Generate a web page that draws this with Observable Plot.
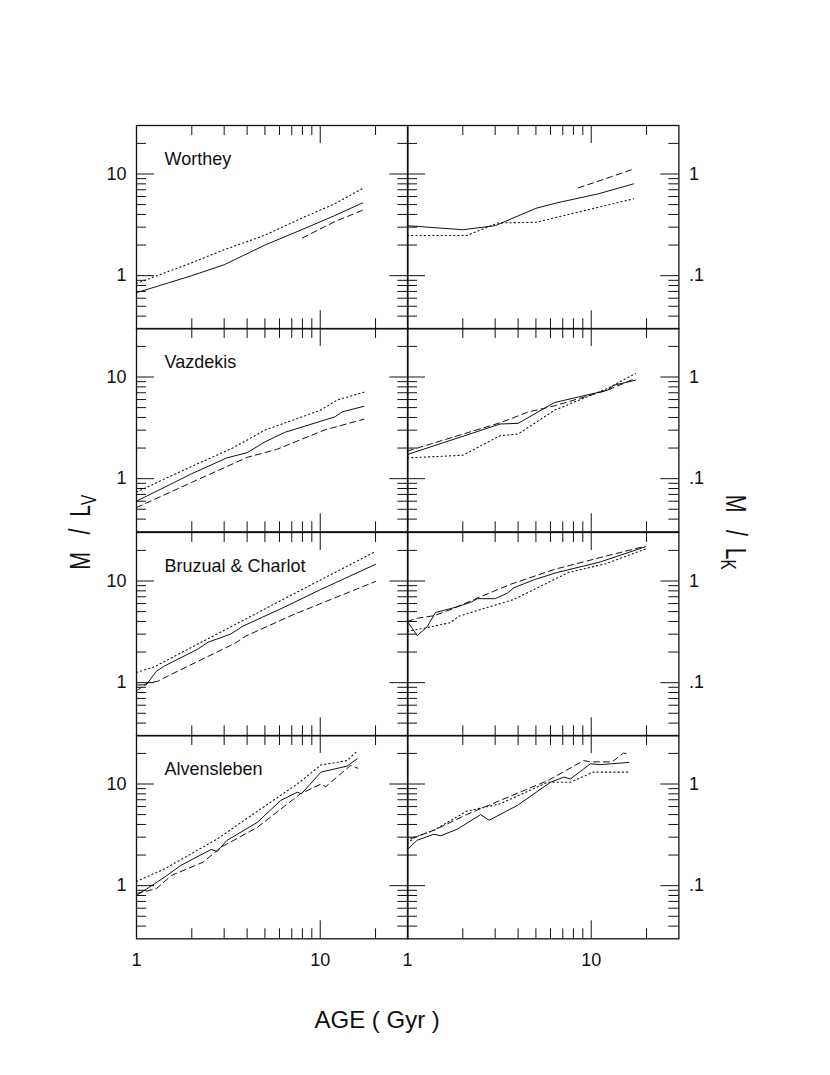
<!DOCTYPE html>
<html>
<head>
<meta charset="utf-8">
<script src="https://cdn.jsdelivr.net/npm/d3@7"></script>
<script src="https://cdn.jsdelivr.net/npm/@observablehq/plot@0.6"></script>
<style>
  body { margin: 0; background: #fff; font-family: "Liberation Sans", Arial, sans-serif; }
  #wrap { position: relative; width: 830px; height: 1075px; overflow: hidden; }
  #wrap svg { position: absolute; overflow: visible; }
  .ttl { position: absolute; white-space: nowrap; color: #111; font-family: "Liberation Sans", Arial, sans-serif; }
  .ttl sub { font-size: 0.72em; vertical-align: -0.25em; }
</style>
</head>
<body>
<div id="wrap"></div>
<script>
// ---------- data: [age (Gyr), M/L] ----------
const models = ["Worthey", "Vazdekis", "Bruzual & Charlot", "Alvensleben"];

// M/L_V (left column)
const worV_solid  = [[1,0.68],[2,1.0],[3,1.28],[5,2.0],[8,2.85],[12,3.9],[17,5.2]];
const worV_dotted = [[1,0.84],[2,1.34],[3,1.8],[5,2.5],[8,3.7],[12,5.1],[17,7.2]];
const worV_dashed = [[8,2.35],[12,3.4],[17,4.4]];

const vazV_solid  = [[1,0.6],[2,1.12],[3.1,1.6],[4,1.8],[5,2.3],[6.4,2.85],[12,4.05],[13.2,4.55],[17.3,5.15]];
const vazV_dotted = [[1,0.74],[2,1.32],[3.3,1.98],[5,3.0],[10,4.7],[12.4,5.95],[17.8,7.2]];
const vazV_dashed = [[1,0.52],[2,0.92],[4,1.62],[5.8,1.94],[10.5,3.0],[17.3,3.85]];

const bcV_solid  = [[1,0.95],[1.13,0.95],[1.28,1.29],[1.42,1.46],[2.15,2.13],[2.45,2.5],[3.25,3.0],[3.8,3.6],[6.4,5.55],[10,8.2],[13,10.2],[20,14.6]];
const bcV_dotted = [[1,1.26],[1.25,1.43],[4,4.3],[7.2,7.5],[20,19.5]];
const bcV_dashed = [[1,0.83],[1.15,1.0],[1.3,1.03],[1.55,1.21],[3.45,2.45],[3.9,2.85],[7.2,4.7],[20,9.9]];

const alvV_solid  = [[1,0.8],[1.25,1.04],[1.42,1.21],[1.74,1.58],[2.55,2.27],[2.75,2.17],[3.1,2.78],[4.55,4.2],[6.1,6.9],[7.5,8.3],[7.9,8.0],[10.1,13.1],[14,15],[15.9,17.7]];
const alvV_dotted = [[1,1.1],[1.42,1.46],[2.75,2.88],[4.55,5.4],[7.5,10],[10.1,15.4],[14,17],[16,21.3]];
const alvV_dashed = [[1,0.84],[1.28,0.93],[1.55,1.26],[2.3,1.7],[2.9,2.4],[4.55,3.75],[7.8,8.0],[10.1,10.0],[10.7,9.4],[14.6,15.2],[16,14.3]];

// M/L_K (right column)
const worK_solid  = [[1,0.31],[2,0.283],[3,0.31],[5,0.46],[6.5,0.52],[11,0.64],[17,0.80]];
const worK_dotted = [[1,0.248],[2.1,0.248],[3.1,0.33],[5,0.335],[8.4,0.42],[17,0.57]];
const worK_dashed = [[8.5,0.73],[12,0.9],[17,1.12]];

const vazK_solid  = [[1,0.173],[3.2,0.345],[4,0.35],[6.3,0.56],[12.2,0.74],[13.3,0.83],[17.4,0.93]];
const vazK_dotted = [[1,0.16],[2,0.17],[3.2,0.265],[4,0.275],[6.3,0.47],[12.2,0.77],[17.4,1.08]];
const vazK_dashed = [[1,0.187],[3.2,0.355],[4.5,0.45],[6.3,0.52],[12.2,0.74],[17.4,0.97]];

const bcK_solid  = [[1,0.40],[1.13,0.29],[1.28,0.355],[1.42,0.49],[1.75,0.54],[2.2,0.615],[2.4,0.67],[3,0.67],[3.5,0.76],[3.8,0.86],[4.9,1.03],[6.5,1.21],[11.2,1.54],[19.7,2.17]];
const bcK_dotted = [[1,0.32],[1.3,0.35],[1.72,0.39],[1.9,0.45],[3.8,0.66],[7.5,1.21],[12,1.48],[19.7,2.06]];
const bcK_dashed = [[1,0.40],[1.13,0.43],[1.39,0.455],[1.75,0.53],[2.4,0.68],[3.65,0.93],[6.3,1.3],[12.2,1.77],[19.7,2.2]];

const alvK_solid  = [[1,0.227],[1.13,0.28],[1.39,0.32],[1.52,0.31],[1.87,0.36],[2.5,0.5],[2.78,0.44],[3.96,0.615],[6,1.04],[7.1,1.17],[7.7,1.12],[9.9,1.58],[11.2,1.55],[16,1.63]];
const alvK_dotted = [[1,0.26],[1.1,0.3],[1.39,0.35],[2.1,0.54],[3.2,0.64],[5.8,1.04],[7.7,1.04],[10.3,1.31],[16,1.31]];
const alvK_dashed = [[1.04,0.29],[1.39,0.35],[2.1,0.5],[3.2,0.69],[5.8,1.08],[9.1,1.7],[9.9,1.65],[13,1.65],[15,2.02],[16,1.95]];

// ticks
const xTickValues = [1, 10];
const xTickLabels = ["1", "10"];
const xMinor = [2, 3, 4, 5, 6, 7, 8, 9, 20];
const xMajor = [1, 10];
const yTickValuesV = [1, 10];
const yTickLabelsV = ["1", "10"];
const yMinorV = [0.4, 0.5, 0.6, 0.7, 0.8, 0.9, 2, 3, 4, 5, 6, 7, 8, 9, 20];
const yTickValuesK = [0.1, 1];
const yTickLabelsK = [".1", "1"];
const yMinorK = [0.04, 0.05, 0.06, 0.07, 0.08, 0.09, 0.2, 0.3, 0.4, 0.5, 0.6, 0.7, 0.8, 0.9, 2];

// ---------- layout ----------
const INK = "#111";
const W = 271.4, BAND = 203.33;
const ML = 60, MR = 60, MT = 10, MB = 50;
const colLeft = [135.5, 406.9];
const rowTop = [125, 125 + BAND, 125 + 2 * BAND, 125 + 3 * BAND];

const panels = [
  {row: 0, col: 0, name: models[0], s: worV_solid, d: worV_dotted, k: worV_dashed},
  {row: 0, col: 1, name: null,      s: worK_solid, d: worK_dotted, k: worK_dashed},
  {row: 1, col: 0, name: models[1], s: vazV_solid, d: vazV_dotted, k: vazV_dashed},
  {row: 1, col: 1, name: null,      s: vazK_solid, d: vazK_dotted, k: vazK_dashed},
  {row: 2, col: 0, name: models[2], s: bcV_solid,  d: bcV_dotted,  k: bcV_dashed},
  {row: 2, col: 1, name: null,      s: bcK_solid,  d: bcK_dotted,  k: bcK_dashed},
  {row: 3, col: 0, name: models[3], s: alvV_solid, d: alvV_dotted, k: alvV_dashed},
  {row: 3, col: 1, name: null,      s: alvK_solid, d: alvK_dotted, k: alvK_dashed}
];

const wrap = document.getElementById("wrap");
const X = d => d[0], Y = d => d[1];

for (const p of panels) {
  const leftCol = p.col === 0;
  const yMinor = leftCol ? yMinorV : yMinorK;
  const yVals = leftCol ? yTickValuesV : yTickValuesK;
  const yLabs = leftCol ? yTickLabelsV : yTickLabelsK;
  const marks = [
    Plot.tickX(xMinor, {x: d => d, insetTop: BAND - 10, stroke: INK, strokeWidth: 1}),
    Plot.tickX(xMinor, {x: d => d, insetBottom: BAND - 10, stroke: INK, strokeWidth: 1}),
    Plot.tickX(xMajor, {x: d => d, insetTop: BAND - 18, stroke: INK, strokeWidth: 1}),
    Plot.tickX(xMajor, {x: d => d, insetBottom: BAND - 18, stroke: INK, strokeWidth: 1}),
    Plot.tickY(yMinor, {y: d => d, insetRight: W - 10, stroke: INK, strokeWidth: 1}),
    Plot.tickY(yMinor, {y: d => d, insetLeft: W - 10, stroke: INK, strokeWidth: 1}),
    Plot.tickY(yVals, {y: d => d, insetRight: W - 18, stroke: INK, strokeWidth: 1}),
    Plot.tickY(yVals, {y: d => d, insetLeft: W - 18, stroke: INK, strokeWidth: 1}),
    Plot.line(p.s, {x: X, y: Y, stroke: INK, strokeWidth: 1}),
    Plot.line(p.d, {x: X, y: Y, stroke: INK, strokeWidth: 1.1, strokeDasharray: "1.2,3"}),
    Plot.line(p.k, {x: X, y: Y, stroke: INK, strokeWidth: 1, strokeDasharray: "6,4"}),
    Plot.frame({stroke: INK, strokeWidth: 1.3})
  ];
  if (p.name) {
    marks.push(Plot.text([p.name], {text: d => d, frameAnchor: "top-left", dx: 28, dy: 27,
      lineAnchor: "top", textAnchor: "start", fontSize: 18, fill: INK}));
  }
  const svg = Plot.plot({
    width: ML + W + MR,
    height: MT + BAND + MB,
    marginLeft: ML, marginRight: MR, marginTop: MT, marginBottom: MB,
    style: {background: "transparent", fontFamily: "'Liberation Sans', Arial, sans-serif", fontSize: "18px", color: INK, overflow: "visible"},
    x: {type: "log", domain: [1, 30], axis: p.row === 3 ? "bottom" : null,
        ticks: xTickValues, tickFormat: d => xTickLabels[xTickValues.indexOf(d)],
        tickSize: 0, tickPadding: 14, label: null},
    y: {type: "log", domain: leftCol ? [0.3, 30] : [0.03, 3], axis: leftCol ? "left" : "right",
        ticks: yVals, tickFormat: d => yLabs[yVals.indexOf(d)],
        tickSize: 0, tickPadding: 10, label: null},
    marks
  });
  svg.style.left = (colLeft[p.col] - ML) + "px";
  svg.style.top = (rowTop[p.row] - MT) + "px";
  wrap.appendChild(svg);
}

// ---------- axis titles ----------
function title(html, cx, cy, size, transform) {
  const el = document.createElement("div");
  el.className = "ttl";
  el.innerHTML = html;
  el.style.fontSize = size + "px";
  wrap.appendChild(el);
  const w = el.offsetWidth, h = el.offsetHeight;
  el.style.left = (cx - w / 2) + "px";
  el.style.top = (cy - h / 2) + "px";
  el.style.transform = transform;
}
title("M&nbsp;&nbsp;&nbsp;/&nbsp;&nbsp;L<sub>V</sub>", 82, 532, 25, "rotate(-90deg) scale(0.85,1.2)");
title("M&nbsp;&nbsp;&nbsp;/&nbsp;&nbsp;L<sub>K</sub>", 734, 532, 25, "rotate(90deg) scale(0.85,1.2)");
title("AGE ( Gyr )", 377, 1020, 24, "none");
</script>
</body>
</html>
